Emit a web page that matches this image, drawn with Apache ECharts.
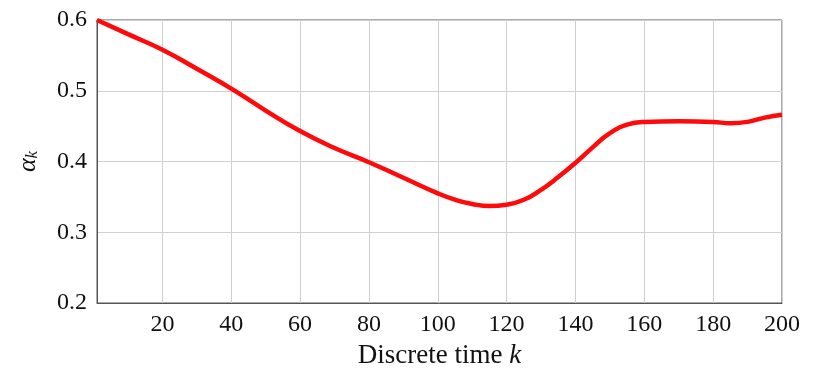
<!DOCTYPE html>
<html>
<head>
<meta charset="utf-8">
<script src="https://cdn.jsdelivr.net/npm/echarts@6/dist/echarts.min.js"></script>
<style>html,body{margin:0;padding:0;background:#fff}#c{width:814px;height:374px}</style>
</head>
<body>
<div id="c"></div>
<script>
var kValues = [1, 10, 20, 30, 40, 50, 60, 70, 80, 90, 100, 105, 110, 115, 120, 125, 130, 135, 140, 145, 150, 155, 160, 170, 180, 185, 190, 195, 200];
var alphaValues = [0.600, 0.580, 0.558, 0.531, 0.503, 0.472, 0.443, 0.419, 0.399, 0.377, 0.355, 0.346, 0.340, 0.337, 0.339, 0.346, 0.360, 0.378, 0.398, 0.420, 0.440, 0.452, 0.456, 0.457, 0.456, 0.454, 0.456, 0.462, 0.466];
var xTicks = [20, 40, 60, 80, 100, 120, 140, 160, 180, 200];
var yTicks = [0.2, 0.3, 0.4, 0.5, 0.6];

var font = 'Liberation Serif';
var data = kValues.map(function (k, i) { return [k, alphaValues[i]]; });
var chart = echarts.init(document.getElementById('c'));
chart.setOption({
  animation: false,
  grid: { left: 97, right: 32, top: 20, bottom: 66, show: true, borderColor: '#555', borderWidth: 1, backgroundColor: 'transparent' },
  xAxis: {
    type: 'value', min: 1, max: 200,
    name: 'Discrete time {i|k}', nameLocation: 'middle', nameGap: 39,
    nameTextStyle: { fontFamily: font, fontSize: 27, color: '#111', rich: { i: { fontFamily: font, fontSize: 27, fontStyle: 'italic', color: '#111' } } },
    axisLine: { show: true, lineStyle: { color: '#555', width: 1 } },
    axisTick: { show: false, customValues: xTicks },
    axisLabel: { customValues: xTicks, fontFamily: font, fontSize: 24, color: '#111', margin: 10 },
    splitLine: { show: true, lineStyle: { color: '#d0d0d0', width: 1 } }
  },
  yAxis: {
    type: 'value', min: 0.2, max: 0.6, interval: 0.1,
    name: '{a|α}{s|k}', nameLocation: 'middle', nameGap: 56, nameRotate: 90,
    nameTextStyle: { rich: { a: { fontFamily: font, fontSize: 26, fontStyle: 'italic', color: '#111' }, s: { fontFamily: font, fontSize: 17, fontStyle: 'italic', color: '#111', verticalAlign: 'bottom', padding: [8, 0, 0, 0] } } },
    axisLine: { show: true, lineStyle: { color: '#555', width: 1 } },
    axisTick: { show: false },
    axisLabel: { fontFamily: font, fontSize: 24, color: '#111', margin: 10, formatter: function (v) { return v.toFixed(1); } },
    splitLine: { show: true, lineStyle: { color: '#d0d0d0', width: 1 } }
  },
  series: [{
    type: 'line', data: data, smooth: true, showSymbol: false,
    lineStyle: { color: '#ff0a0a', width: 4.5 }
  }]
});
</script>
</body>
</html>
